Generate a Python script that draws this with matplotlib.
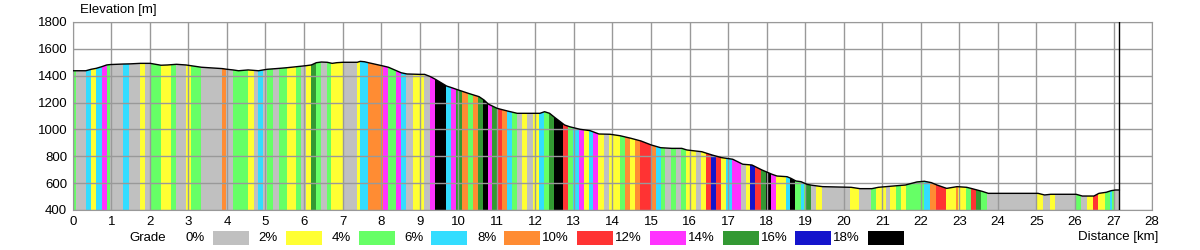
import matplotlib
matplotlib.use("Agg")
import matplotlib.pyplot as plt
from matplotlib.patches import Polygon, Rectangle

plt.rcParams['font.family'] = ['Liberation Sans', 'DejaVu Sans']

# grade classes (legend)
grade_labels = ['0%', '2%', '4%', '6%', '8%', '10%', '12%', '14%', '16%', '18%']
grade_colors = ['#c0c0c0', '#ffff33', '#66ff66', '#33ddff', '#ff8c33',
                '#ff3333', '#ff33ff', '#339933', '#1414cc', '#000000']

# elevation profile
prof_km = [0.0, 0.34, 0.48, 0.61, 0.75, 0.88, 0.97, 1.31, 1.47, 1.75, 2.01, 2.29,
           2.46, 2.69, 2.94, 3.34, 3.88, 4.0, 4.16, 4.3, 4.55, 4.82, 4.94, 5.05,
           5.37, 5.57, 5.80, 6.06, 6.19, 6.32, 6.45, 6.60, 6.73, 6.85, 7.01, 7.38,
           7.46, 7.57, 7.67, 8.06, 8.19, 8.52, 8.67, 9.0, 9.13, 9.28, 9.41, 9.70,
           9.83, 9.97, 10.26, 10.54, 10.67, 10.78, 11.01, 11.28, 11.53, 11.98, 12.12,
           12.24, 12.37, 12.50, 12.76, 12.89, 13.16, 13.42, 13.65, 13.94, 14.20,
           14.48, 14.74, 15.01, 15.25, 15.54, 15.80, 15.93, 16.32, 16.58, 16.83,
           17.12, 17.38, 17.62, 17.88, 18.14, 18.27, 18.53, 18.63, 18.76, 18.89,
           19.05, 19.18, 19.45, 20.19, 20.42, 20.73, 20.9, 21.3, 21.6, 21.9, 22.09,
           22.27, 22.42, 22.67, 22.94, 23.19, 23.33, 23.46, 23.59, 23.75, 25.04,
           25.21, 25.37, 26.03, 26.19, 26.49, 26.62, 26.81, 26.94, 27.05, 27.15]
prof_m = [1437, 1437, 1448, 1455, 1467, 1480, 1483, 1487, 1488, 1492, 1492, 1478,
          1480, 1485, 1480, 1463, 1453, 1448, 1443, 1437, 1443, 1437, 1443, 1448,
          1455, 1460, 1467, 1475, 1480, 1497, 1502, 1500, 1492, 1497, 1500, 1500,
          1507, 1504, 1497, 1472, 1463, 1422, 1413, 1410, 1410, 1393, 1373, 1323,
          1311, 1297, 1269, 1244, 1219, 1189, 1157, 1137, 1120, 1120, 1120,
          1132, 1120, 1090, 1033, 1020, 1001, 991, 966, 964, 953,
          934, 914, 884, 864, 859, 859, 847, 834, 810, 790,
          778, 741, 735, 698, 666, 653, 648, 636, 616, 611,
          591, 584, 574, 569, 559, 559, 569, 579, 586, 609, 614,
          604, 586, 561, 574, 569, 559, 549, 539, 524, 524,
          512, 517, 517, 504, 504, 524, 532, 544, 549, 549]

# grade bands: start of each band (km) and its grade class
band_start = [0.0, 0.086, 0.34, 0.48, 0.61, 0.75, 0.88, 0.97, 1.31, 1.47, 1.75, 1.88,
              2.01, 2.29, 2.56, 2.69, 2.93, 3.08, 3.34, 3.87, 3.98, 4.16, 4.55, 4.70,
              4.80, 4.93, 5.04, 5.20, 5.36, 5.55, 5.79, 5.92, 6.05, 6.18, 6.31, 6.44,
              6.59, 6.71, 7.00, 7.37, 7.45, 7.66, 8.05, 8.18, 8.38, 8.51, 8.65, 8.83,
              9.11, 9.27, 9.40, 9.69, 9.82, 9.95, 10.10, 10.26, 10.39, 10.52, 10.64,
              10.77, 10.88, 11.01, 11.14, 11.27, 11.40, 11.53, 11.66, 11.79, 11.94,
              12.09, 12.22, 12.35, 12.48, 12.73, 12.86, 12.99, 13.13, 13.26, 13.39,
              13.50, 13.62, 13.78, 13.91, 14.20, 14.33, 14.46, 14.59, 14.72, 15.01,
              15.12, 15.27, 15.37, 15.53, 15.66, 15.79, 15.90, 16.16, 16.29, 16.42,
              16.55, 16.68, 16.81, 16.95, 17.10, 17.34, 17.47, 17.58, 17.71, 17.85,
              17.98, 18.11, 18.24, 18.50, 18.61, 18.74, 18.89, 18.96, 19.02, 19.15,
              19.28, 19.43, 20.17, 20.40, 20.71, 20.83, 21.10, 21.20, 21.36, 21.49,
              21.62, 22.07, 22.24, 22.40, 22.65, 22.92, 22.96, 23.17, 23.30, 23.43,
              23.56, 23.72, 25.01, 25.18, 25.34, 25.48, 26.00, 26.16, 26.30, 26.46,
              26.59, 26.78, 26.91, 26.97, 27.02]
band_grade = [2, 0, 3, 1, 3, 6, 2, 0, 3, 0, 1, 0,
              2, 1, 2, 0, 1, 2, 0, 4, 0, 2, 1, 0,
              3, 0, 2, 0, 2, 1, 2, 0, 1, 7, 2, 0,
              2, 1, 0, 1, 3, 4, 6, 2, 6, 3, 0, 1,
              0, 6, 9, 3, 6, 7, 4, 2, 4, 7, 9,
              6, 7, 5, 4, 3, 2, 0, 1, 0, 1,
              3, 2, 7, 9, 5, 2, 3, 6, 1, 3,
              6, 1, 0, 1, 2, 4, 1, 4, 5, 4,
              3, 2, 0, 2, 0, 2, 1, 0, 1, 5,
              8, 5, 1, 3, 6, 0, 1, 8, 5, 7,
              9, 6, 1, 3, 9, 2, 3, 2, 7, 0,
              1, 0, 1, 0, 2, 1, 0, 1, 2, 1,
              2, 3, 4, 5, 1, 4, 1, 2, 5, 7,
              2, 0, 1, 0, 1, 0, 2, 0, 1, 5,
              1, 2, 3, 2, 0]
route_end = 27.15


def main():
    fig = plt.figure(figsize=(12, 2.5), dpi=100)
    ax = fig.add_axes([0.0606, 0.16, 0.8995, 0.752])

    pts = [(prof_km[0], 400)] + list(zip(prof_km, prof_m)) + [(prof_km[-1], 400)]
    clip = Polygon(pts, closed=True, facecolor='none', edgecolor='none')
    ax.add_patch(clip)

    ends = band_start[1:] + [route_end]
    widths = [e - s for s, e in zip(band_start, ends)]
    colors = [grade_colors[g] for g in band_grade]
    bars = ax.bar(band_start, 1400, width=widths, bottom=400, align='edge',
                  color=colors, linewidth=0, antialiased=False, zorder=1)
    for b in bars:
        b.set_clip_path(clip)

    ax.plot(prof_km, prof_m, color='black', lw=1.0, zorder=3)
    ax.axvline(route_end, color='black', lw=1, zorder=3)

    ax.set_xlim(0, 28)
    ax.set_ylim(400, 1800)
    ax.set_xticks(range(0, 29))
    ax.set_yticks(range(400, 1801, 200))
    ax.grid(True, color='#999999', lw=1, zorder=2)
    ax.set_axisbelow(False)
    ax.tick_params(length=0, pad=4, labelsize=9.5)
    for s in ax.spines.values():
        s.set_color('#999999')

    fig.text(80 / 1200, 1 - 10 / 250, 'Elevation [m]', fontsize=9.5, va='center')
    fig.text(1158 / 1200, 1 - 237 / 250, 'Distance [km]', fontsize=9.5,
             ha='right', va='center')

    # legend row
    ly = 1 - 238 / 250
    fig.text(148 / 1200, ly, 'Grade', fontsize=9.5, ha='center', va='center')
    for i, (lab, col) in enumerate(zip(grade_labels, grade_colors)):
        x0 = 213 + i * 72.8
        fig.text((x0 - 8) / 1200, ly, lab, fontsize=9.5, ha='right', va='center')
        fig.patches.append(Rectangle((x0 / 1200, 1 - 245 / 250), 36 / 1200, 14 / 250,
                                     transform=fig.transFigure, facecolor=col,
                                     edgecolor='none'))

    fig.savefig('out.png', dpi=100)


if __name__ == '__main__':
    main()
